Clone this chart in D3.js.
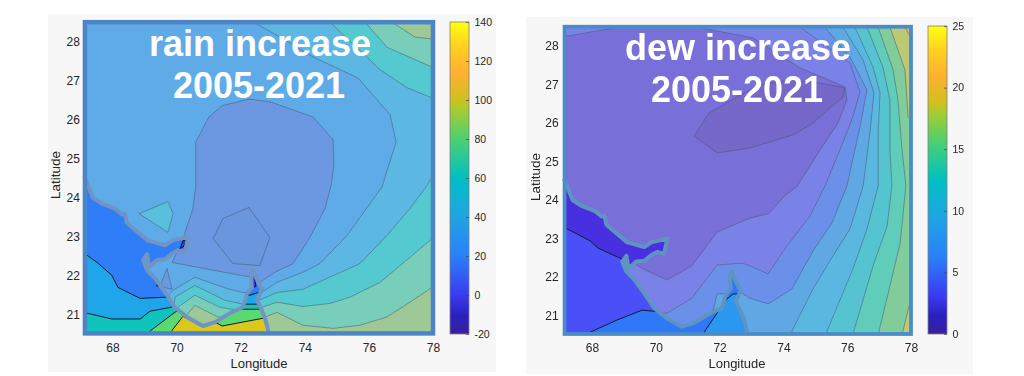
<!DOCTYPE html>
<html><head><meta charset="utf-8">
<script src="https://cdn.jsdelivr.net/npm/d3@7"></script>
<style>
html,body{margin:0;padding:0;background:#fff}
svg{display:block;filter:blur(0.35px)}
text{font-family:"Liberation Sans",Arial,sans-serif}
</style></head><body>
<svg id="chart" width="1024" height="376"></svg>
<script>
const lonTicks = [68,70,72,74,76,78];
const latTicks = [21,22,23,24,25,26,27,28];
const rainTicks = [-20,0,20,40,60,80,100,120,140];
const dewTicks = [0,5,10,15,20,25];
const rainTitle = ["rain increase","2005-2021"];
const dewTitle = ["dew increase","2005-2021"];

// shared coastline (lon, lat)
const coast = [[67.12,24.55],[67.24,24.31],[67.39,24.00],[67.67,23.85],[68.08,23.72],[68.30,23.57],[68.39,23.59],[68.45,23.36],[68.80,23.11],[69.11,22.90],[69.64,22.78],[69.86,22.90],[70.36,23.00],[70.26,22.60],[70.04,22.65],[69.86,22.57],[69.64,22.42],[69.39,22.40],[69.14,22.22],[69.08,22.55],[68.95,22.40],[69.08,22.14],[69.33,21.93],[69.64,21.57],[69.95,21.19],[70.32,20.94],[70.82,20.71],[71.20,20.81],[71.67,21.04],[72.07,21.19],[72.20,21.55],[72.35,21.70],[72.32,22.06],[72.38,22.14],[72.54,21.83],[72.66,21.65],[72.51,21.37],[72.66,21.11],[72.76,20.91],[72.88,20.52]];
const seaCorners = [[67.12,20.52]];

// rain: land bands (polygon and level), painted in order
const rainLand = [
 [[72.29,28.6],[72.51,28.45],[73.23,28.12],[74.26,27.61],[75.66,27.07],[76.66,26.13],[76.85,25.43],[76.41,24.28],[75.32,23.03],[74.47,22.31],[73.94,22.09],[73.13,21.83],[72.66,21.57],[72.07,21.57],[71.57,21.67],[70.57,21.96],[69.89,21.63],[69.64,21.4],[69.64,20.25],[78.2,20.25],[78.2,28.6]],
 [[74.85,28.6],[74.85,28.45],[76.35,27.28],[77.19,26.82],[77.97,26.56],[78.2,26.5],[78.2,28.6]],
 [[78.2,24.72],[77.97,24.52],[77.81,24.31],[77.28,23.72],[76.56,23.03],[75.72,22.31],[74.69,21.93],[73.94,21.65],[73.13,21.57],[72.66,21.4],[72.07,21.27],[71.51,21.37],[70.57,21.75],[69.95,21.45],[69.8,20.25],[78.2,20.25]],
 [[75.94,28.6],[75.94,28.45],[76.56,27.86],[77.97,27.35],[78.2,27.28],[78.2,28.6]],
 [[78.2,23.1],[77.97,22.95],[77.28,22.47],[76.35,21.83],[75.41,21.45],[74.79,21.29],[73.94,21.21],[73.13,21.32],[72.66,21.19],[72.07,21.09],[71.35,21.19],[70.57,21.5],[70.04,21.19],[69.86,20.25],[78.2,20.25]],
 [[76.81,28.6],[76.81,28.45],[77.44,28.12],[77.97,28.07],[78.2,28.07],[78.2,28.6]],
 [[78.2,21.83],[77.97,21.7],[77.28,21.32],[76.56,20.94],[75.72,20.73],[74.88,20.65],[73.94,20.73],[73.13,21.06],[72.76,20.94],[72.07,20.89],[71.29,20.94],[70.57,21.24],[70.26,20.94],[70.26,20.25],[78.2,20.25]],
 [[70.60,25.43],[71.01,26.07],[71.42,26.36],[72.26,26.53],[72.91,26.46],[74.26,26.07],[74.88,25.49],[74.91,24.85],[74.82,24.31],[74.63,23.72],[74.16,22.98],[73.63,22.31],[73.07,22.09],[72.60,21.83],[72.35,21.96],[71.67,22.06],[70.82,22.19],[69.86,22.34],[70.20,22.95],[70.51,23.72],[70.60,24.31]],
 [[71.14,22.95],[71.45,23.47],[72.26,23.75],[72.91,22.98],[72.60,22.26],[71.76,22.31]],
 [[68.83,23.59],[69.73,23.9],[69.89,23.59],[69.73,23.11]],
 [[69.70,22.19],[69.86,21.65],[69.48,21.73]]
];
const rainLandBase = 30;
const rainLandLevels = [40,50,50,60,60,70,70,20,21,45,20];

// rain: sea bands
const rainSeaBase = 20;
const rainSeaLevels = [40,60,80,100,0,0,0];
const rainSea = [
 [[66.99,22.65],[67.52,22.34],[67.98,22.01],[68.17,21.70],[68.86,21.42],[69.73,21.45],[71.04,21.52],[72.29,21.50],[72.66,21.60],[73.23,21.60],[73.23,20.25],[66.99,20.25]],
 [[66.99,21.04],[67.2,21.04],[67.98,20.89],[68.86,20.89],[69.17,21.09],[69.83,21.19],[70.11,21.32],[71.04,21.34],[72.13,21.27],[73.23,21.27],[73.23,20.25],[66.99,20.25]],
 [[69.0,20.25],[69.17,20.58],[69.83,20.99],[70.17,21.19],[70.73,21.40],[71.98,21.14],[72.66,21.14],[73.23,21.14],[73.23,20.25]],
 [[69.86,20.37],[69.86,20.6],[70.2,20.96],[70.82,20.68],[71.2,20.81],[71.42,20.71],[72.7,20.91],[73.23,20.91],[73.23,20.25],[69.86,20.25]],
 [[70.2,22.9],[70.11,22.7],[70.23,22.75],[70.29,22.9]],
 [[69.36,21.75],[69.51,21.7],[69.42,21.78]],
 [[72.35,21.96],[72.41,21.7],[72.48,21.73],[72.41,22.03]]
];

// dew: land bands
const dewLand = [
 [[67.0,28.23],[67.22,28.26],[68.88,28.49],[71.29,28.49],[73.05,28.21],[74.52,27.43],[75.93,26.94],[75.99,26.60],[75.71,26.0],[75.15,25.30],[74.43,24.36],[74.11,24.16],[73.52,23.64],[72.95,23.53],[71.92,23.17],[71.13,22.29],[70.35,21.92],[69.60,22.21],[69.10,22.47],[68.72,22.70],[67.0,22.70]],
 [[71.20,25.66],[71.67,26.26],[72.55,26.68],[73.27,26.99],[74.21,27.12],[75.15,27.04],[75.93,26.91],[75.87,26.68],[75.21,26.21],[74.93,26.0],[74.30,25.69],[72.95,25.35],[71.92,25.22]],
 [[74.52,28.6],[74.52,28.49],[76.09,27.56],[76.40,26.81],[76.18,26.16],[75.77,25.30],[75.30,24.36],[74.83,23.58],[74.11,22.81],[73.52,22.08],[72.95,22.29],[72.70,22.36],[71.92,22.31],[71.13,21.45],[70.35,21.06],[69.82,21.09],[69.82,20.36],[78.13,20.36],[78.13,28.6]],
 [[75.30,28.6],[75.30,28.49],[76.09,27.71],[76.62,26.86],[76.40,25.90],[75.99,24.36],[75.52,23.40],[74.93,22.68],[74.27,21.69],[73.52,21.30],[72.95,21.45],[72.70,21.58],[71.92,21.56],[71.79,21.09],[71.39,20.36],[78.13,20.36],[78.13,28.6]],
 [[75.87,28.6],[75.87,28.49],[76.50,27.64],[76.84,26.78],[76.71,25.74],[76.50,24.36],[76.09,23.25],[75.46,22.42],[74.93,21.69],[74.27,20.60],[74.27,20.36],[78.13,20.36],[78.13,28.6]],
 [[76.24,28.6],[76.24,28.49],[76.81,27.45],[77.03,26.78],[76.97,25.74],[76.97,24.36],[76.62,23.25],[76.18,22.21],[75.37,20.60],[75.37,20.36],[78.13,20.36],[78.13,28.6]],
 [[76.62,28.6],[76.62,28.49],[77.12,27.45],[77.34,26.60],[77.34,25.30],[77.40,24.36],[77.25,23.32],[76.81,22.29],[76.21,20.60],[76.21,20.36],[78.13,20.36],[78.13,28.6]],
 [[76.97,28.6],[76.97,28.49],[77.44,27.38],[77.59,26.60],[77.72,25.30],[77.84,24.36],[77.66,22.88],[77.34,21.77],[77.0,20.60],[77.0,20.36],[78.13,20.36],[78.13,28.6]],
 [[77.34,28.6],[77.34,28.49],[77.81,27.38],[77.91,26.16],[78.13,25.95],[78.13,28.6]],
 [[77.81,28.6],[77.81,28.49],[77.94,28.29],[78.13,28.29],[78.13,28.6]],
 [[77.94,21.25],[77.75,20.60],[77.72,20.36],[78.13,20.36],[78.13,21.25]]
];
const dewLandBase = 4;
const dewLandLevels = [2,1,5,6,7,8,9,10,12,13,12];

// dew: sea bands
const dewSeaBase = 2;
const dewSeaLevels = [3,5,7];
const dewSea = [
 [[67.0,23.32],[67.22,23.25],[67.94,22.94],[68.19,22.75],[68.88,22.49],[69.50,22.05],[73.27,22.05],[73.27,20.2],[67.0,20.2]],
 [[67.78,20.2],[67.78,20.49],[68.03,20.60],[68.78,20.88],[69.57,21.14],[70.19,21.09],[71.39,21.66],[72.17,22.23],[73.27,22.23],[73.27,20.2]],
 [[71.39,20.2],[71.54,20.60],[72.01,21.17],[72.23,21.43],[72.42,21.56],[73.27,21.58],[73.27,20.2]]
];

const rainLandColor = d3.scaleOrdinal([30,40,50,60,70,20,21,45],["#5fabe8","#5cb8e2","#55c9d0","#78ceb8","#9ec896","#6b98e0","#6a96de","#58bfdc"]);
const rainSeaColor = d3.scaleOrdinal([20,40,60,80,100,0],["#2f7ef7","#1fa5ea","#10c4bc","#5cd96e","#d8c820","#4030e8"]);
const dewLandColor = d3.scaleOrdinal([4,2,1,5,6,7,8,9,10,12,13],["#7a82e8","#7870d8","#7568c8","#6a90ea","#60a8e4","#5ab8e0","#56c4d0","#60ccba","#82cc9c","#bcc874","#e8b850"]);
const dewSeaColor = d3.scaleOrdinal([2,3,5,7],["#4830e0","#4a50f8","#2f78f8","#2a98f0"]);

const colorStops = [[0,"#3b1f9e"],[.06,"#2a20c0"],[.125,"#3a3cf0"],[.25,"#2a80f8"],[.375,"#1fa4e4"],[.5,"#00bfc4"],[.625,"#4cd070"],[.72,"#a8cc30"],[.75,"#d0c020"],[.84,"#ffb030"],[.92,"#ffd020"],[1,"#ffff10"]];

const svg = d3.select("#chart");
const line = d3.line();
const defs = svg.append("defs");
const grad = defs.append("linearGradient").attr("id","cbar").attr("x1",0).attr("x2",0).attr("y1",1).attr("y2",0);
grad.selectAll("stop").data(colorStops).join("stop").attr("offset",d=>d[0]).attr("stop-color",d=>d[1]);

const panels = [
 {id:"rain",bg:[48,14,448,358],xr:[112.5,433],yr:[314.7,41.7],frame:4.5,frameColor:"#4c84c6",coastColor:"#7094c4",
  land:rainLand,landLv:rainLandLevels,landBase:rainLandBase,landC:rainLandColor,
  sea:rainSea,seaLv:rainSeaLevels,seaBase:rainSeaBase,seaC:rainSeaColor,
  title:rainTitle,tx:[260,259],ty:[56,98],
  cb:[450,469,22,334],cbDom:[-20,140],cbTicks:rainTicks,
  xlab:[259,368],ylab:[60,175],latPad:3},
 {id:"dew",bg:[526,17,447,357],xr:[592,911],yr:[315.5,46],frame:3.8,frameColor:"#4a8cc8",coastColor:"#5e95c0",
  land:dewLand,landLv:dewLandLevels,landBase:dewLandBase,landC:dewLandColor,
  sea:dewSea,seaLv:dewSeaLevels,seaBase:dewSeaBase,seaC:dewSeaColor,
  title:dewTitle,tx:[738,737],ty:[60,102],
  cb:[928,947,26,334],cbDom:[0,25],cbTicks:dewTicks,
  xlab:[737,368],ylab:[540,177],latPad:4}
];

panels.forEach(p=>{
  const g = svg.append("g").attr("class",p.id);
  g.append("rect").attr("x",p.bg[0]).attr("y",p.bg[1]).attr("width",p.bg[2]).attr("height",p.bg[3]).attr("fill","#f7f7f7");
  const x = d3.scaleLinear().domain([68,78]).range(p.xr);
  const y = d3.scaleLinear().domain([21,28]).range(p.yr);
  const pt = d=>[x(d[0]),y(d[1])];
  const xMin=67.14,xMax=78,yMin=20.52,yMax=28.5;
  const fx=x(xMin),fX=x(xMax),fy=y(yMax),fY=y(yMin);
  defs.append("clipPath").attr("id","plot-"+p.id).append("rect").attr("x",fx).attr("y",fy).attr("width",fX-fx).attr("height",fY-fy);
  const seaPoly = coast.concat(seaCorners);
  defs.append("clipPath").attr("id","sea-"+p.id).append("path").attr("d",line(seaPoly.map(pt))+"Z");

  const plot = g.append("g").attr("clip-path",`url(#plot-${p.id})`);
  plot.append("rect").attr("x",fx).attr("y",fy).attr("width",fX-fx).attr("height",fY-fy).attr("fill",p.landC(p.landBase));
  plot.selectAll("path.land").data(p.land).join("path").attr("class","land")
    .attr("d",d=>line(d.map(pt))+"Z")
    .attr("fill",(d,i)=>p.landC(p.landLv[i]))
    .attr("stroke","rgba(70,85,110,.5)").attr("stroke-width",1);
  const sea = plot.append("g").attr("clip-path",`url(#sea-${p.id})`);
  sea.append("rect").attr("x",fx).attr("y",fy).attr("width",fX-fx).attr("height",fY-fy).attr("fill",p.seaC(p.seaBase));
  sea.selectAll("path").data(p.sea).join("path")
    .attr("d",d=>line(d.map(pt))+"Z")
    .attr("fill",(d,i)=>p.seaC(p.seaLv[i]))
    .attr("stroke","#101c30").attr("stroke-width",1);
  g.append("path").attr("d",line(coast.map(pt))).attr("fill","none")
    .attr("stroke",p.coastColor).attr("stroke-width",4).attr("stroke-linejoin","round");
  g.append("rect").attr("x",fx).attr("y",fy).attr("width",fX-fx).attr("height",fY-fy)
    .attr("fill","none").attr("stroke",p.frameColor).attr("stroke-width",p.frame);

  const xAxis = g.append("g").attr("transform",`translate(0,${fY+2})`)
    .call(d3.axisBottom(x).tickValues(lonTicks).tickSize(0).tickPadding(8).tickFormat(String));
  const yAxis = g.append("g").attr("transform",`translate(${fx-2},0)`)
    .call(d3.axisLeft(y).tickValues(latTicks).tickSize(0).tickPadding(p.latPad).tickFormat(String));
  [xAxis,yAxis].forEach(a=>{a.select(".domain").remove();a.selectAll("text").attr("font-size",12).attr("fill","#262626").attr("font-family",'"Liberation Sans",Arial,sans-serif');});

  g.append("text").attr("x",p.xlab[0]).attr("y",p.xlab[1]).attr("text-anchor","middle").attr("font-size",13).attr("fill","#262626").text("Longitude");
  g.append("text").attr("transform",`translate(${p.ylab[0]},${p.ylab[1]}) rotate(-90)`).attr("text-anchor","middle").attr("font-size",13.5).attr("fill","#262626").text("Latitude");

  g.selectAll("text.title").data(p.title).join("text").attr("class","title")
    .attr("x",(d,i)=>p.tx[i]).attr("y",(d,i)=>p.ty[i]).attr("text-anchor","middle")
    .attr("font-size",36).attr("font-weight","bold").attr("fill","#fff").text(d=>d);

  const [c0,c1,cT,cB]=p.cb;
  const cs = d3.scaleLinear().domain(p.cbDom).range([cB,cT]);
  g.append("rect").attr("x",c0).attr("y",cT).attr("width",c1-c0).attr("height",cB-cT)
    .attr("fill","url(#cbar)").attr("stroke","#808080").attr("stroke-width",.8);
  const cAxis = g.append("g").attr("transform",`translate(${c1},0)`)
    .call(d3.axisRight(cs).tickValues(p.cbTicks).tickSize(-3).tickPadding(5.5).tickFormat(String));
  cAxis.select(".domain").remove();
  cAxis.selectAll("line").attr("stroke","#444").attr("stroke-width",.7);
  cAxis.selectAll("text").attr("font-size",10.5).attr("fill","#262626").attr("font-family",'"Liberation Sans",Arial,sans-serif');
});
</script>
</body></html>
